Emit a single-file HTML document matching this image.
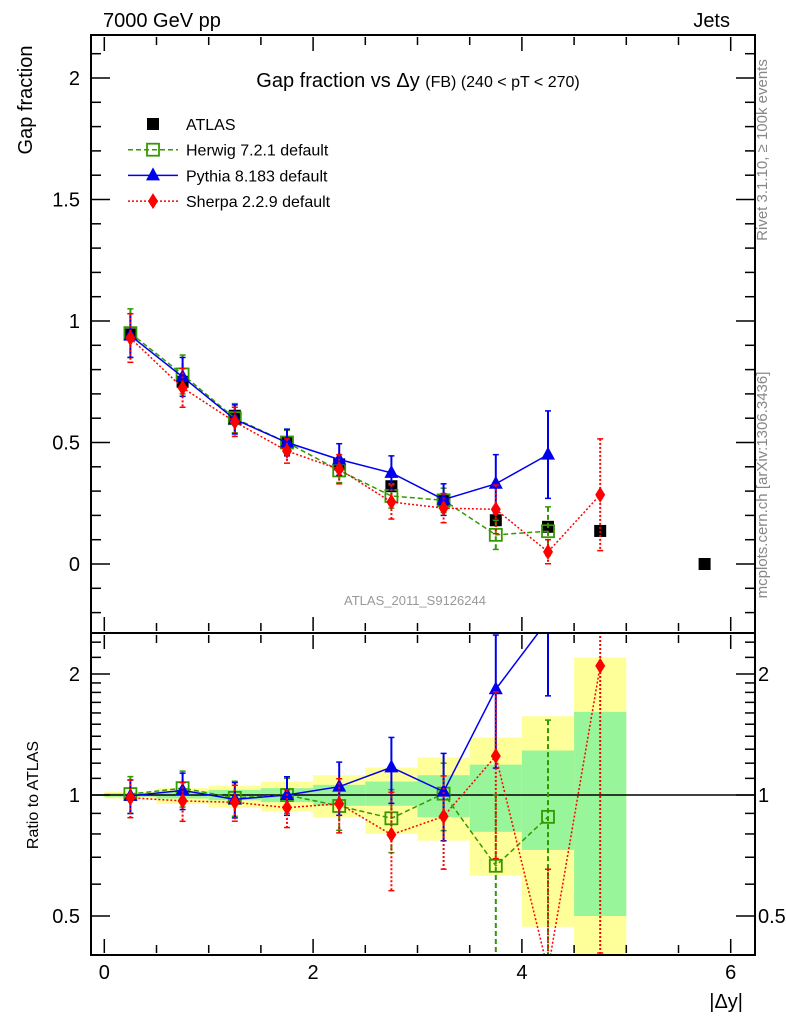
<!DOCTYPE html>
<html><head><meta charset="utf-8"><style>
html,body{margin:0;padding:0;background:#fff;width:786px;height:1024px;overflow:hidden;}
svg{display:block;font-family:"Liberation Sans",sans-serif;}
</style></head><body>
<svg id="chart" width="786" height="1024" viewBox="0 0 786 1024" xmlns="http://www.w3.org/2000/svg">
<defs>
<clipPath id="cm"><rect x="91" y="35" width="664" height="598"/></clipPath>
<clipPath id="cr"><rect x="91" y="633" width="664" height="322"/></clipPath>
</defs>
<g id="bands" clip-path="url(#cr)"></g>
<g id="grid"></g>
<g id="main" clip-path="url(#cm)"></g>
<g id="ratio" clip-path="url(#cr)"></g>
<rect x="91" y="35" width="664" height="598" fill="none" stroke="#000" stroke-width="2"/>
<rect x="91" y="633" width="664" height="322" fill="none" stroke="#000" stroke-width="2"/>
<text x="103" y="27" font-size="20">7000 GeV pp</text>
<text x="730" y="27" font-size="20" text-anchor="end">Jets</text>
<text x="418" y="87" font-size="20" text-anchor="middle">Gap fraction vs Δy <tspan font-size="16">(FB) (240 &lt; pT &lt; 270)</tspan></text>
<text transform="translate(32,100) rotate(-90)" font-size="20" text-anchor="middle">Gap fraction</text>
<text transform="translate(38,795) rotate(-90)" font-size="16" text-anchor="middle">Ratio to ATLAS</text>
<text x="743" y="1008" font-size="20" text-anchor="end">|Δy|</text>
<text x="415" y="605" font-size="13" fill="#999" text-anchor="middle">ATLAS_2011_S9126244</text>
<text transform="translate(767,150) rotate(-90)" font-size="15" fill="#888" text-anchor="middle">Rivet 3.1.10, ≥ 100k events</text>
<text transform="translate(767,485) rotate(-90)" font-size="15" fill="#888" text-anchor="middle">mcplots.cern.ch [arXiv:1306.3436]</text>
<g id="legend"></g>
</svg>
<script>
const centers=[0.25,0.75,1.25,1.75,2.25,2.75,3.25,3.75,4.25,4.75,5.75];
const atlas=[0.945,0.75,0.61,0.50,0.41,0.32,0.26,0.18,0.153,0.136,0.0];
const herwig=[0.95,0.78,0.60,0.50,0.385,0.28,0.262,0.12,0.135];
const herwigErr=[0.1,0.08,0.06,0.05,0.05,0.05,0.05,0.06,0.1];
const pythia=[0.94,0.77,0.595,0.50,0.43,0.375,0.265,0.33,0.45];
const pythiaErr=[0.09,0.08,0.06,0.055,0.065,0.07,0.065,0.12,0.18];
const sherpa=[0.93,0.725,0.585,0.465,0.39,0.255,0.23,0.225,0.05,0.285];
const sherpaErr=[0.1,0.08,0.06,0.05,0.06,0.07,0.06,0.1,0.05,0.23];
const binEdges=[0,0.5,1,1.5,2,2.5,3,3.5,4,4.5,5];
const bandTotUp=[1.02,1.04,1.055,1.08,1.12,1.17,1.24,1.39,1.57,2.2];
const bandTotDn=[0.98,0.95,0.93,0.91,0.88,0.80,0.77,0.63,0.47,0.3];
const bandStatUp=[1.01,1.02,1.03,1.04,1.06,1.08,1.12,1.19,1.29,1.61];
const bandStatDn=[0.99,0.98,0.97,0.96,0.94,0.94,0.88,0.81,0.73,0.5];
const yTicksMain=["0","0.5","1","1.5","2"];
const xTicks=["0","2","4","6"];

const NS="http://www.w3.org/2000/svg";
const X=v=>104.3+v*104.4;
const Y=v=>Math.min(700,Math.max(0,564-v*243));
const R=v=>Math.min(970,Math.max(620,795-121*Math.log2(Math.max(v,1e-3))));
function mk(tag,attrs,parent){const e=document.createElementNS(NS,tag);for(const k in attrs)e.setAttribute(k,attrs[k]);parent.appendChild(e);return e;}
const g=id=>document.getElementById(id);

const bands=g('bands');
binEdges.slice(0,-1).forEach((x0,i)=>{
  const x1=binEdges[i+1];
  const a=mk('rect',{x:X(x0),y:R(bandTotUp[i]),width:X(x1)-X(x0),height:R(bandTotDn[i])-R(bandTotUp[i]),fill:'#ffff99'},bands);
  
  
  const b=mk('rect',{x:X(x0),y:R(bandStatUp[i]),width:X(x1)-X(x0),height:R(bandStatDn[i])-R(bandStatUp[i]),fill:'#99f599'},bands);
  
  
});

const grid=g('grid');
for(let k=0;k<=12;k++){const v=k*0.5,x=X(v);const L=(k%4==0)?14:8;
  [[635,635+L],[953,953-L],[37,37+L],[631,631-L]].forEach(p=>mk('line',{x1:x,x2:x,y1:p[0],y2:p[1],stroke:'#000','stroke-width':1.5},grid));}
xTicks.forEach((t,i)=>{const e=mk('text',{x:X(i*2),y:979,'font-size':20,'text-anchor':'middle'},grid);e.textContent=t;
  
  });
for(let k=-2;k<=21;k++){const y=564-k*0.1*243;if(y<36||y>632)continue;const L=(k%5==0)?18:9;
  mk('line',{x1:92,x2:92+L,y1:y,y2:y,stroke:'#000','stroke-width':1.5},grid);
  mk('line',{x1:754,x2:754-L,y1:y,y2:y,stroke:'#000','stroke-width':1.5},grid);}
yTicksMain.forEach((t,i)=>{const e=mk('text',{x:80,y:Y(i*0.5)+7,'font-size':20,'text-anchor':'end'},grid);e.textContent=t;
  
  });
[0.4,0.5,0.6,0.7,0.8,0.9,1,1.1,1.2,1.3,1.4,1.5,1.6,1.7,1.8,1.9,2,2.2,2.4].forEach(v=>{const y=R(v);if(y<634||y>954)return;
  const L=(v==0.5||v==1||v==2)?18:9;
  mk('line',{x1:92,x2:92+L,y1:y,y2:y,stroke:'#000','stroke-width':1.5},grid);
  mk('line',{x1:754,x2:754-L,y1:y,y2:y,stroke:'#000','stroke-width':1.5},grid);});
[["0.5",0.5],["1",1],["2",2]].forEach(p=>{
  const a=mk('text',{x:80,y:R(p[1])+7,'font-size':20,'text-anchor':'end'},grid);a.textContent=p[0];
  
  
  const b=mk('text',{x:758,y:R(p[1])+7,'font-size':20},grid);b.textContent=p[0];
  
  });
mk('line',{x1:91,x2:755,y1:R(1),y2:R(1),stroke:'#000','stroke-width':1.5},g('ratio'));

function marker(type,x,y,col,parent){
  if(type=='sq')return mk('rect',{x:x-6,y:y-6,width:12,height:12,fill:'#000'},parent);
  if(type=='osq')return mk('rect',{x:x-6,y:y-6,width:12,height:12,fill:'#fff','fill-opacity':0,stroke:col,'stroke-width':1.8},parent);
  if(type=='tri')return mk('polygon',{points:`${x},${y-8} ${x-7},${y+5} ${x+7},${y+5}`,fill:col},parent);
  return mk('polygon',{points:`${x},${y-8} ${x-5},${y} ${x},${y+8} ${x+5},${y}`,fill:col},parent);
}
function series(name,vals,errs,col,dash,type,ratio){
  const par=g(ratio?'ratio':'main');
  const fy=ratio?((v,i)=>R(v/atlas[i])):((v)=>Y(v));
  const pts=vals.map((v,i)=>X(centers[i])+','+fy(v,i)).join(' ');
  const l=mk('polyline',{points:pts,fill:'none',stroke:col,'stroke-width':1.5,'stroke-dasharray':dash},par);
  
  
  vals.forEach((v,i)=>{const x=X(centers[i]);const y1=fy(v+errs[i],i),y2=fy(Math.max(v-errs[i],0.001),i);
    const e=mk('line',{x1:x,x2:x,y1:y1,y2:y2,stroke:col,'stroke-width':2,'stroke-dasharray':dash},par);
    
    
    mk('line',{x1:x-3,x2:x+3,y1:y1,y2:y1,stroke:col,'stroke-width':1.5},par);
    mk('line',{x1:x-3,x2:x+3,y1:y2,y2:y2,stroke:col,'stroke-width':1.5},par);
    const m=marker(type,x,fy(v,i),col,par);
    
    });
}
atlas.forEach((v,i)=>{const m=marker('sq',X(centers[i]),Y(v),'#000',g('main'));
  
  });
[false,true].forEach(r=>{
  series('herwig',herwig,herwigErr,'#339900','5,3','osq',r);
  series('pythia',pythia,pythiaErr,'#0000ee','','tri',r);
  series('sherpa',sherpa,sherpaErr,'#ff0000','2,2','dia',r);
});
const lg=g('legend');
const items=[['ATLAS','sq','#000',''],['Herwig 7.2.1 default','osq','#339900','5,3'],['Pythia 8.183 default','tri','#0000ee',''],['Sherpa 2.2.9 default','dia','#ff0000','2,2']];
items.forEach((it,i)=>{const y=124+i*25.7;
  if(i>0)mk('line',{x1:128,x2:178,y1:y,y2:y,stroke:it[2],'stroke-width':1.5,'stroke-dasharray':it[3]},lg);
  marker(it[1],153,y,it[2],lg);
  const t=mk('text',{x:186,y:y+6,'font-size':16},lg);t.textContent=it[0];
  
  });
</script>
</body></html>
